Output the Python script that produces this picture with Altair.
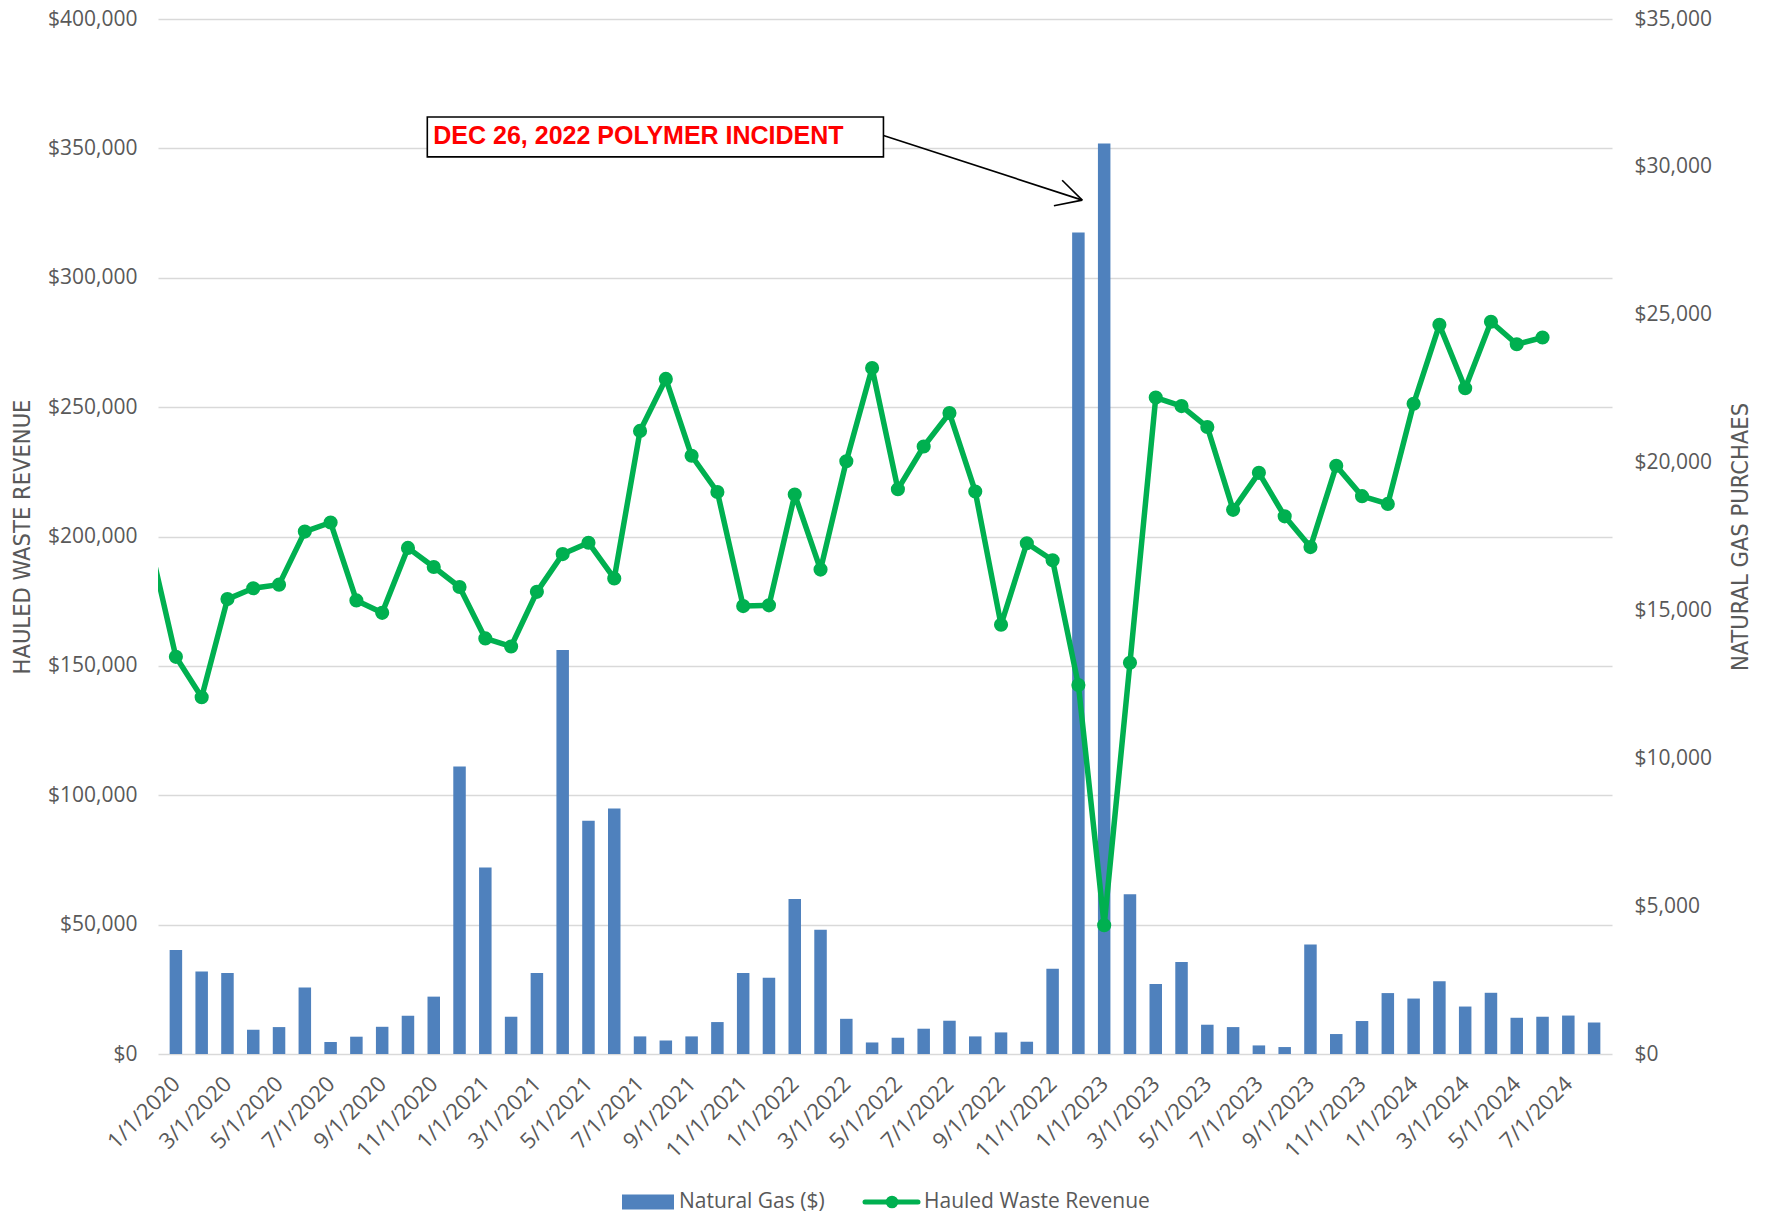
import altair as alt
import pandas as pd

# ---------------- data ----------------
months = [f"{m}/1/{y}" for y in range(2020, 2025) for m in range(1, 13)][:56]

natural_gas = [
    3520, 2790, 2740, 820, 910, 2250, 405, 585, 920, 1290, 1940, 9720,
    6310, 1260, 2740, 13660, 7890, 8300, 595, 460, 595, 1080, 2740, 2575,
    5240, 4200, 1190, 390, 550, 855, 1125, 595, 730, 415, 2880, 27780,
    30790, 5400, 2370, 3110, 990, 910, 290, 235, 3700, 675, 1115, 2060,
    1875, 2460, 1605, 2070, 1225, 1260, 1300, 1065,
]

# 12/1/2019 value (only its segment shows at the left edge), then 1/1/2020 .. 6/1/2024
prior_revenue = 197000
hauled_revenue = [
    153500, 137900, 175800, 180000, 181400, 201900, 205400, 175300, 170500, 195600, 188200, 180500,
    160600, 157500, 178600, 193200, 197600, 183800, 240800, 260900, 231200, 217200, 173100, 173400,
    216200, 187200, 229100, 265100, 218300, 234800, 247700, 217400, 165900, 197400, 190800, 142600,
    49800, 151200, 253700, 250400, 242300, 210300, 224600, 207800, 195900, 227300, 215600, 212600,
    251300, 281800, 257300, 283000, 274300, 276900,
]

annot_text = "DEC 26, 2022 POLYMER INCIDENT"

gas_df = pd.DataFrame({"idx": list(range(len(natural_gas))), "month": months, "gas": natural_gas})
rev_df = pd.DataFrame({"idx": [-1] + list(range(len(hauled_revenue))),
                       "rev": [prior_revenue] + hauled_revenue})
pts_df = rev_df[rev_df["idx"] >= 0]

# annotation geometry in data units (x = month index, y = revenue $)
box_df = pd.DataFrame({"x1": [9.75], "x2": [27.44], "y1": [346700], "y2": [362100],
                       "ty": [354800], "label": [annot_text]})
arrow_df = pd.DataFrame({
    "x1": [27.44, 35.15, 35.15],
    "y1": [355000, 330000, 330000],
    "x2": [35.15, 34.37, 34.05],
    "y2": [330000, 337700, 327800],
})

# ---------------- style ----------------
W, H = 1454, 1035
LABEL_FONT = "Open Sans"
TITLE_FONT = "DejaVu Sans Condensed"
GREY = "#595959"
BLUE = "#4F81BD"
GREEN = "#00B050"

label_array = "[" + ",".join(repr(m) for m in months) + "]"
x_scale = alt.Scale(domain=[-0.5, 55.5], nice=False, zero=False)

x_enc = alt.X(
    "idx:Q",
    scale=x_scale,
    axis=alt.Axis(
        values=list(range(0, 56, 2)),
        labelExpr=f"{label_array}[datum.value]",
        labelAngle=-45, labelAlign="right", labelBaseline="middle",
        labelPadding=26, labelOverlap=False, labelFlush=False,
        labelFont=LABEL_FONT, labelFontSize=22, labelColor=GREY,
        ticks=False, tickSize=0, domain=False, grid=False, title=None,
    ),
)
x_plain = alt.X("idx:Q", scale=x_scale)

bars = alt.Chart(gas_df).mark_bar(size=12.5, color=BLUE).encode(
    x=x_enc,
    y=alt.Y(
        "gas:Q",
        scale=alt.Scale(domain=[0, 35000], nice=False),
        axis=alt.Axis(
            orient="right", values=list(range(0, 35001, 5000)), format="$,.0f",
            grid=False, ticks=False, tickSize=0, domain=False, labelPadding=22,
            labelFont=LABEL_FONT, labelFontSize=21, labelColor=GREY,
            title="NATURAL GAS PURCHAES",
            titleFont=TITLE_FONT, titleFontSize=23.5,
            titleFontWeight="normal", titleColor=GREY, titleAngle=-90,
            titleX=128.5, titleY=H / 2, titleAlign="center", titleBaseline="middle",
        ),
    ),
)

left_axis = alt.Axis(
    orient="left", values=list(range(0, 400001, 50000)), format="$,.0f",
    grid=True, gridColor="#D9D9D9", gridWidth=1.5,
    ticks=False, tickSize=0, domain=False, labelPadding=21,
    labelFont=LABEL_FONT, labelFontSize=21, labelColor=GREY,
    title="HAULED WASTE REVENUE",
    titleFont=TITLE_FONT, titleFontSize=23.5,
    titleFontWeight="normal", titleColor=GREY, titleAngle=-90,
    titleX=-135.5, titleY=H / 2, titleAlign="center", titleBaseline="middle",
)
left_scale = alt.Scale(domain=[0, 400000], nice=False)


def yl(field):
    return alt.Y(field, scale=left_scale, axis=left_axis)


line = alt.Chart(rev_df).mark_line(
    color=GREEN, strokeWidth=5.5, clip=True, strokeJoin="round", strokeCap="round"
).encode(x=x_plain, y=yl("rev:Q"))

points = alt.Chart(pts_df).mark_circle(size=200, color=GREEN, opacity=1).encode(
    x=x_plain, y=yl("rev:Q")
)

box = alt.Chart(box_df).mark_rect(fill="white", stroke="black", strokeWidth=1.6).encode(
    x=alt.X("x1:Q", scale=x_scale), x2="x2:Q", y=yl("y1:Q"), y2="y2:Q",
)

box_text = alt.Chart(box_df).mark_text(
    align="left", baseline="middle", dx=6, font="Liberation Sans",
    fontSize=25, fontWeight="bold", color="#FF0000",
).encode(x=alt.X("x1:Q", scale=x_scale), y=yl("ty:Q"), text="label:N")

arrow = alt.Chart(arrow_df).mark_rule(color="black", strokeWidth=1.6).encode(
    x=alt.X("x1:Q", scale=x_scale), x2="x2:Q", y=yl("y1:Q"), y2="y2:Q",
)

revenue_layer = alt.layer(line, points, box, arrow, box_text)

# ---------------- legend (drawn below the plot) ----------------
one = alt.Data(values=[{"k": 1}])
LEG_Y = 1183
leg_rect = alt.Chart(one).mark_rect(color=BLUE).encode(
    x=alt.value(464), x2=alt.value(516), y=alt.value(LEG_Y - 7.5), y2=alt.value(LEG_Y + 7.5)
)
leg_t1 = alt.Chart(one).mark_text(
    align="left", baseline="middle", font=LABEL_FONT, fontSize=21, color=GREY
).encode(x=alt.value(521), y=alt.value(LEG_Y), text=alt.value("Natural Gas ($)"))
leg_line = alt.Chart(one).mark_rule(color=GREEN, strokeWidth=5, strokeCap="round").encode(
    x=alt.value(707), x2=alt.value(760), y=alt.value(LEG_Y)
)
leg_dot = alt.Chart(one).mark_circle(color=GREEN, size=160, opacity=1).encode(
    x=alt.value(734), y=alt.value(LEG_Y)
)
leg_t2 = alt.Chart(one).mark_text(
    align="left", baseline="middle", font=LABEL_FONT, fontSize=21, color=GREY
).encode(x=alt.value(766), y=alt.value(LEG_Y), text=alt.value("Hauled Waste Revenue"))

chart = (
    alt.layer(bars, revenue_layer, leg_rect, leg_t1, leg_line, leg_dot, leg_t2)
    .resolve_scale(y="independent")
    .properties(
        width=W, height=H,
        autosize=alt.AutoSizeParams(type="none"),
        padding={"left": 150, "top": 11, "right": 150, "bottom": 159},
        background="white",
    )
    .configure_view(strokeWidth=0)
)

chart.save("out.html", embed_options={"renderer": "svg", "actions": False})
